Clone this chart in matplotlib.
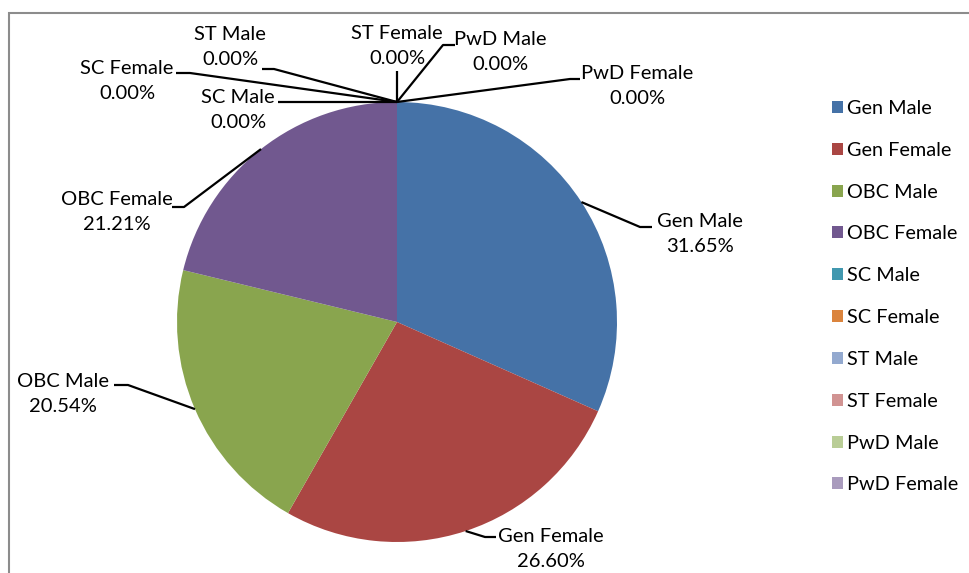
import numpy as np
import matplotlib
matplotlib.use("Agg")
import matplotlib.pyplot as plt
from matplotlib.patches import Rectangle

categories = ["Gen Male", "Gen Female", "OBC Male", "OBC Female", "SC Male",
              "SC Female", "ST Male", "ST Female", "PwD Male", "PwD Female"]
values = [31.65, 26.60, 20.54, 21.21, 0.0, 0.0, 0.0, 0.0, 0.0, 0.0]
colors = ["#4572A7", "#AA4643", "#89A54E", "#71588F", "#4198AF",
          "#DB843D", "#93A9CF", "#D19392", "#B9CD96", "#A99BBD"]

# layout (pixel coordinates, y measured from top)
W, H = 970, 573
center_px = (397, 322)
radius_px = 220
label_pos = {
    "Gen Male": (700, 234), "Gen Female": (551, 549), "OBC Male": (63, 394),
    "OBC Female": (117, 212), "SC Male": (238, 110), "SC Female": (127, 81),
    "ST Male": (230, 47), "ST Female": (397, 46), "PwD Male": (500, 52),
    "PwD Female": (637, 86),
}
leader_bend = {
    "Gen Male": [(640, 227), (652, 227)],
    "Gen Female": [(485, 537), (496, 537)],
    "OBC Male": [(128, 385), (114, 385)],
    "OBC Female": [(184, 207), (172, 207)],
    "SC Male": [(282, 102), (278, 102)],
    "SC Female": [(190, 73), (176, 73)],
    "ST Male": [(274, 69), (262, 69)],
    "ST Female": [(397, 72), (397, 71)],
    "PwD Male": [(443, 45), (455, 45)],
    "PwD Female": [(570, 79), (580, 79)],
}

plt.rcParams['font.family'] = ['Lato', 'DejaVu Sans']
fig = plt.figure(figsize=(W / 100, H / 100), dpi=100)
ax = fig.add_axes([0, 0, 1, 1])

def Y(py):
    return H - py

ax.add_patch(Rectangle((9, Y(H + 10)), W, H + 10 - 13, fill=False,
                       edgecolor="#8c8c8c", lw=1.5, zorder=0))

cx, cy = center_px[0], Y(center_px[1])
wedges, _ = ax.pie(values, colors=colors, startangle=90, counterclock=False,
                   radius=radius_px, center=(cx, cy), frame=True,
                   wedgeprops=dict(linewidth=0))
ax.set_xlim(0, W)
ax.set_ylim(0, H)
ax.set_aspect('equal')
ax.axis('off')

for w, name, v in zip(wedges, categories, values):
    ang = np.deg2rad((w.theta1 + w.theta2) / 2)
    sx = cx + radius_px * np.cos(ang)
    sy = cy + radius_px * np.sin(ang)
    pts = [(sx, sy)] + [(px, Y(py)) for px, py in leader_bend[name]]
    xs, ys = zip(*pts)
    ax.plot(xs, ys, color="black", lw=1.6, solid_capstyle='butt', zorder=3)
    tx, ty = label_pos[name]
    ax.text(tx, Y(ty), f"{name}\n{v:.2f}%", ha="center", va="center",
            multialignment="center", fontsize=14.5, linespacing=1.6,
            color="black", zorder=4)

leg = ax.legend(wedges, categories, loc="upper left",
                bbox_to_anchor=(824 / W, 1 - 92 / H), frameon=False,
                fontsize=14.3, handlelength=0.55, handleheight=0.55,
                handletextpad=0.2, labelspacing=1.25, borderaxespad=0)

fig.savefig("out.png", dpi=100)
